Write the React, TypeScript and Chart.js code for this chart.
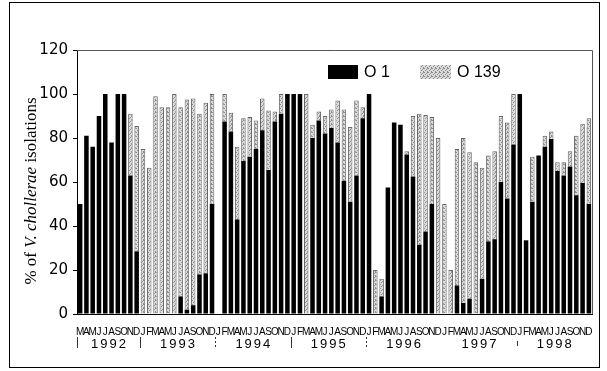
import React, { useEffect, useRef } from "react";
import { Chart, registerables } from "chart.js";

Chart.register(...registerables);

// ---- Data ----
const years = ["1992", "1993", "1994", "1995", "1996", "1997", "1998"];
const firstYearMonths = ["M", "A", "M", "J", "J", "A", "S", "O", "N", "D"];
const fullYearMonths = ["J", "F", "M", "A", "M", "J", "J", "A", "S", "O", "N", "D"];
const monthLabels = [
  ...firstYearMonths,
  ...fullYearMonths, ...fullYearMonths, ...fullYearMonths,
  ...fullYearMonths, ...fullYearMonths, ...fullYearMonths,
];

// % of isolations that were O1 (black)
const o1Values = [
  50, 81, 76, 90, 100, 78, 100, 100, 63, 28.5,
  0, 0, 0, 0, 0, 0, 8, 2, 4, 18, 18.5, 50,
  0, 87.5, 83, 43, 69.5, 71.5, 75, 83.5, 65.5, 87.5, 91, 100,
  100, 100, 0, 80, 88, 82, 84.5, 78, 60.5, 51, 63, 89,
  100, 0, 8, 57.5, 87, 86, 72.5, 62.5, 31.5, 37.5, 50, 0,
  0, 0, 13, 5, 7, 0, 16, 33, 34, 60, 52.5, 77,
  100, 33.5, 51, 72, 76, 79.5, 65, 63, 67, 54, 59.5, 50,
];
// % of isolations that were O139 (stippled grey, stacked on top)
const o139Values = [
  0, 0, 0, 0, 0, 0, 0, 0, 28, 57,
  75, 66.5, 99, 94, 94, 100, 86, 95.5, 94, 73, 77.5, 50,
  0, 12.5, 8.5, 33, 19.5, 18, 13, 14.5, 27, 4.5, 9, 0,
  0, 0, 100, 6, 4, 8, 8.5, 19, 32.5, 34, 34, 5,
  0, 20, 8, 0, 0, 0, 1.5, 27.5, 59.5, 53, 39.5, 80,
  50, 20, 62, 75, 66.5, 69, 50.5, 39, 40, 30, 34.5, 23,
  0, 0, 20.5, 0, 5, 3.5, 4, 6, 7, 27, 27, 39,
];
const seriesLabels = ["O 1", "O 139"];
const yTicks = { min: 0, max: 120, step: 20 };
const yTitleParts = [
  { text: "% of ", italic: false },
  { text: "V. chollerae", italic: true },
  { text: " isolations", italic: false },
];

const SANS = "'Liberation Sans', Arial, Helvetica, sans-serif";
const WIDE = "'DejaVu Sans', 'Liberation Sans', sans-serif";
const SERIF = "'Liberation Serif', 'Times New Roman', serif";

function makePattern(ctx: CanvasRenderingContext2D) {
  const pc = document.createElement("canvas");
  pc.width = 4;
  pc.height = 4;
  const p = pc.getContext("2d")!;
  p.fillStyle = "#dcdcdc";
  p.fillRect(0, 0, 4, 4);
  p.fillStyle = "#8a8a8a";
  [[0, 0], [2, 1], [1, 2], [3, 3], [3, 0]].forEach(([x, y]) => p.fillRect(x, y, 1, 1));
  return ctx.createPattern(pc, "repeat")!;
}

export default function App() {
  const ref = useRef<HTMLCanvasElement | null>(null);

  useEffect(() => {
    const canvas = ref.current!;
    const ctx = canvas.getContext("2d")!;
    const pattern = makePattern(ctx);

    // index ranges of each year among the month labels
    const yearRanges: [number, number][] = [];
    let start = 0;
    years.forEach((_, i) => {
      const n = i === 0 ? firstYearMonths.length : fullYearMonths.length;
      yearRanges.push([start, start + n - 1]);
      start += n;
    });

    const decor = {
      id: "decor",
      afterDraw(chart: any) {
        const c = chart.ctx as CanvasRenderingContext2D;
        const a = chart.chartArea;
        const x = chart.scales.x;
        c.save();
        // outer frame
        c.strokeStyle = "#000";
        c.lineWidth = 1;
        c.strokeRect(9.5, 2.5, 590, 365);
        // plot frame top/right
        c.strokeStyle = "#555";
        c.beginPath();
        c.moveTo(a.left, Math.round(a.top) + 0.5);
        c.lineTo(Math.round(a.right) + 0.5, Math.round(a.top) + 0.5);
        c.lineTo(Math.round(a.right) + 0.5, a.bottom);
        c.stroke();

        // year labels and separators
        const half = (x.getPixelForValue(1) - x.getPixelForValue(0)) / 2;
        c.fillStyle = "#000";
        c.font = `13px ${SANS}`;
        (c as any).letterSpacing = "2px";
        c.textAlign = "center";
        c.textBaseline = "alphabetic";
        yearRanges.forEach(([s, e], i) => {
          const cx = (x.getPixelForValue(s) + x.getPixelForValue(e)) / 2;
          c.fillText(years[i], cx + 1, 348);
        });
        (c as any).letterSpacing = "0px";
        const sepStyles = ["solid", "solid", "dashed", "solid", "dashed", "none", "short"];
        c.strokeStyle = "#333";
        yearRanges.forEach(([s], i) => {
          const st = sepStyles[i];
          if (st === "none") return;
          const px = Math.round(x.getPixelForValue(s) - half) + 0.5;
          c.setLineDash(st === "dashed" ? [2, 2] : []);
          c.beginPath();
          if (st === "short") {
            c.moveTo(px, 341);
            c.lineTo(px, 346);
          } else {
            c.moveTo(px, 337);
            c.lineTo(px, 348);
          }
          c.stroke();
        });
        c.setLineDash([]);

        // legend
        const ds = chart.data.datasets;
        c.fillStyle = "#000";
        c.fillRect(328, 65, 30, 14);
        c.font = `16px ${SANS}`;
        c.textAlign = "left";
        c.textBaseline = "middle";
        c.fillText(ds[0].label, 364, 73);
        c.fillStyle = pattern;
        c.fillRect(420, 65, 31, 14);
        c.fillStyle = "#000";
        c.fillText(ds[1].label, 457, 73);

        // y-axis title, mixed roman/italic
        c.save();
        c.translate(32, 191);
        c.rotate(-Math.PI / 2);
        c.textBaseline = "middle";
        c.textAlign = "left";
        const fontFor = (it: boolean) => `${it ? "italic " : ""}17px ${SERIF}`;
        let total = 0;
        yTitleParts.forEach((p) => {
          c.font = fontFor(p.italic);
          total += c.measureText(p.text).width;
        });
        let tx = -total / 2;
        yTitleParts.forEach((p) => {
          c.font = fontFor(p.italic);
          c.fillText(p.text, tx, 0);
          tx += c.measureText(p.text).width;
        });
        c.restore();
        c.restore();
      },
    };

    const chart = new Chart(canvas, {
      type: "bar",
      data: {
        labels: monthLabels,
        datasets: [
          {
            label: seriesLabels[0],
            data: o1Values,
            backgroundColor: "#000",
            borderWidth: 0,
            barPercentage: 0.72,
            categoryPercentage: 1,
          },
          {
            label: seriesLabels[1],
            data: o139Values,
            backgroundColor: pattern as any,
            borderColor: "#666",
            borderWidth: { left: 1, right: 1, top: 1, bottom: 0 } as any,
            borderSkipped: false,
            barPercentage: 0.72,
            categoryPercentage: 1,
          },
        ],
      },
      options: {
        responsive: false,
        animation: false,
        layout: { padding: { top: 50, right: 15, left: 0, bottom: 0 } },
        plugins: {
          legend: { display: false },
          tooltip: { enabled: false },
          title: { display: false },
        },
        scales: {
          x: {
            stacked: true,
            offset: true,
            grid: { display: false },
            border: { display: true, color: "#000", width: 1 },
            ticks: {
              autoSkip: false,
              maxRotation: 0,
              minRotation: 0,
              padding: 4,
              color: "#000",
              font: { size: 10, family: SANS },
            },
            afterFit(s: any) {
              s.height = 57;
            },
          },
          y: {
            stacked: true,
            min: yTicks.min,
            max: yTicks.max,
            ticks: {
              stepSize: yTicks.step,
              padding: 5,
              color: "#000",
              font: { size: 15, family: WIDE },
            },
            grid: { drawOnChartArea: false, tickLength: 4, color: "#000" },
            border: { display: true, color: "#000", width: 1 },
            afterFit(s: any) {
              s.width = 77;
            },
          },
        },
      },
      plugins: [decor],
    });
    return () => chart.destroy();
  }, []);

  return (
    <div style={{ position: "fixed", left: 0, top: 0, width: 607, height: 371, background: "#fff" }}>
      <canvas ref={ref} width={607} height={371} style={{ width: 607, height: 371, display: "block" }} />
    </div>
  );
}
